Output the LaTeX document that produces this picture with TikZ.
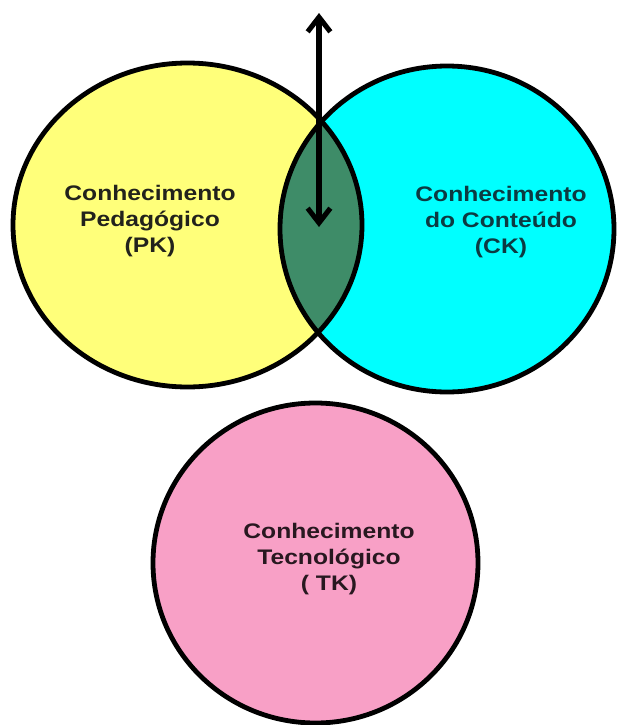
\documentclass[tikz,border=0pt]{standalone}
\usepackage{fontspec}
\newfontfamily\knfont[FakeStretch=1.17]{Liberation Sans Bold}
\usetikzlibrary{arrows.meta}
\definecolor{pkyellow}{RGB}{255,255,122}
\definecolor{ckcyan}{RGB}{0,255,255}
\definecolor{pckgreen}{RGB}{62,140,104}
\definecolor{tkpink}{RGB}{248,160,198}
\definecolor{pktext}{RGB}{34,34,28}
\definecolor{cktext}{RGB}{12,58,66}
\definecolor{tktext}{RGB}{40,24,32}

\begin{document}
\begin{tikzpicture}[
      x=0.75pt, y=-0.75pt,
      ring/.style={line width=3.6pt},
      kname/.style={align=center,font=\knfont\fontsize{15.8pt}{19.5pt}\selectfont},
      trans/.style={line width=3.8pt,
        {Straight Barb[length=11pt,width=17pt]}-{Straight Barb[length=11pt,width=17pt]}}
      ]
      \useasboundingbox (0,0) rectangle (619,725);
      \fill[pkyellow] (187.5,225) ellipse [x radius=174.5, y radius=162];
      \fill[ckcyan] (447,229) ellipse [x radius=167, y radius=163];
      \begin{scope}
        \clip (187.5,225) ellipse [x radius=174.5, y radius=162];
        \fill[pckgreen] (447,229) ellipse [x radius=167, y radius=163];
      \end{scope}
      \draw[ring] (187.5,225) ellipse [x radius=174.5, y radius=162];
      \draw[ring] (447,229) ellipse [x radius=167, y radius=163];
      \draw[ring,fill=tkpink] (315.5,563) ellipse [x radius=162.5, y radius=160];
      \node[kname,text=pktext] (pk) at (150,221) {Conhecimento\\Pedagógico\\(PK)};
      \node[kname,text=cktext] (ck) at (501,222) {Conhecimento\\do Conteúdo\\(CK)};
      \node[kname,text=tktext] (tk) at (329,559) {Conhecimento\\Tecnológico\\( TK)};
      \coordinate (arrtop) at (319,13);
      \coordinate (arrbot) at (319,227);
      \draw[trans] (arrtop) -- (arrbot);
    \end{tikzpicture}
\end{document}
